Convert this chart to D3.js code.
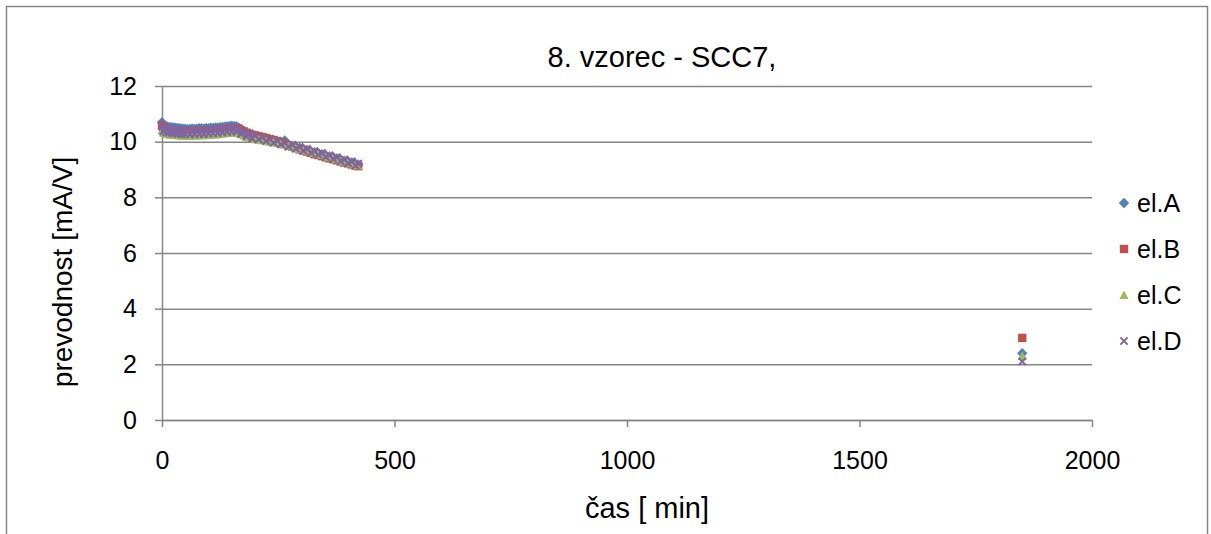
<!DOCTYPE html>
<html>
<head>
<meta charset="utf-8">
<script src="https://cdn.jsdelivr.net/npm/d3@7"></script>
<style>
  html, body { margin: 0; padding: 0; background: #fff; }
  svg { display: block; font-family: "Liberation Sans", Arial, sans-serif; }
</style>
</head>
<body>
<svg id="chart" width="1211" height="534"></svg>
<script>
// Measurement times [min]; the last sample was taken the next day
const times = [0,3,6,9,12,15,18,21,24,27,30,34,38,42,46,50,55,60,65,70,75,80,85,90,95,100,
  105,110,115,120,125,130,135,140,145,150,155,160,165,170,176,182,188,194,200,208,216,224,
  232,240,248,256,264,272,280,288,296,304,312,320,328,336,344,352,360,368,376,384,392,400,
  408,416,422,1850];

// Conductance [mA/V] of each electrode
const elA = [10.70,10.62,10.58,10.55,10.54,10.52,10.51,10.52,10.50,10.50,10.49,10.48,10.48,10.47,
  10.46,10.47,10.45,10.46,10.47,10.46,10.47,10.48,10.48,10.47,10.49,10.48,10.50,10.49,10.51,10.50,
  10.52,10.53,10.54,10.55,10.56,10.57,10.56,10.55,10.50,10.44,10.38,10.33,10.28,10.24,10.21,10.17,
  10.13,10.10,10.06,10.03,10.00,9.97,10.04,9.89,9.85,9.81,9.78,9.74,9.70,9.66,9.62,9.59,9.55,9.51,
  9.47,9.44,9.40,9.36,9.32,9.29,9.25,9.21,9.18,2.40];
const elB = [10.58,10.50,10.47,10.45,10.44,10.43,10.42,10.42,10.41,10.41,10.40,10.39,10.39,10.38,
  10.38,10.38,10.37,10.37,10.38,10.38,10.38,10.39,10.39,10.39,10.40,10.40,10.41,10.41,10.42,10.42,
  10.43,10.44,10.45,10.46,10.47,10.48,10.49,10.48,10.46,10.41,10.36,10.32,10.28,10.24,10.22,10.19,
  10.16,10.13,10.09,10.06,10.02,9.98,9.92,9.86,9.82,9.77,9.72,9.68,9.64,9.60,9.55,9.52,9.48,9.44,
  9.40,9.37,9.33,9.29,9.25,9.22,9.18,9.14,9.12,2.95];
const elC = [10.40,10.33,10.31,10.29,10.28,10.27,10.26,10.26,10.25,10.25,10.24,10.23,10.23,10.22,
  10.22,10.22,10.21,10.21,10.22,10.22,10.22,10.23,10.23,10.23,10.24,10.24,10.25,10.26,10.27,10.27,
  10.28,10.29,10.30,10.31,10.32,10.33,10.34,10.33,10.31,10.27,10.22,10.18,10.14,10.11,10.09,10.07,
  10.05,10.03,10.00,9.98,9.95,9.92,9.89,9.85,9.82,9.78,9.74,9.71,9.67,9.63,9.59,9.56,9.52,9.48,
  9.44,9.41,9.37,9.33,9.29,9.26,9.22,9.18,9.15,2.30];
const elD = [10.55,10.38,10.50,10.34,10.47,10.32,10.45,10.31,10.44,10.30,10.43,10.28,10.42,10.27,
  10.41,10.27,10.40,10.26,10.41,10.27,10.41,10.28,10.42,10.28,10.43,10.29,10.44,10.30,10.45,10.31,
  10.46,10.33,10.48,10.35,10.50,10.37,10.51,10.36,10.47,10.28,10.37,10.19,10.29,10.11,10.23,10.08,
  10.15,10.02,10.09,9.96,10.03,9.90,9.96,9.82,9.89,9.75,9.81,9.68,9.74,9.60,9.66,9.53,9.59,9.45,
  9.51,9.38,9.44,9.30,9.36,9.23,9.29,9.15,9.21,2.10];

const seriesNames = ["el.A", "el.B", "el.C", "el.D"];
const xTicks = [0, 500, 1000, 1500, 2000];
const yTicks = [0, 2, 4, 6, 8, 10, 12];

const colors = { "el.A": "#4F81BD", "el.B": "#C0504D", "el.C": "#9BBB59", "el.D": "#8064A2" };
const shapes = { "el.A": "diamond", "el.B": "square", "el.C": "triangle", "el.D": "cross" };
const seriesValues = { "el.A": elA, "el.B": elB, "el.C": elC, "el.D": elD };

const svg = d3.select("#chart");
const grey = "#868686";
const fontFamily = "'Liberation Sans', Arial, sans-serif";

// chart area frame
svg.append("rect")
  .attr("x", 6.5).attr("y", 6.5).attr("width", 1201).attr("height", 540)
  .attr("fill", "#fff").attr("stroke", grey).attr("stroke-width", 1.5);

const plot = { left: 162, right: 1092, top: 86, bottom: 420 };
const x = d3.scaleLinear().domain([0, 2000]).range([plot.left, plot.right]);
const y = d3.scaleLinear().domain([0, 12]).range([plot.bottom, plot.top]);

// horizontal gridlines
svg.append("g")
  .attr("transform", `translate(${plot.left},0)`)
  .call(d3.axisLeft(y).tickValues(yTicks).tickSize(-(plot.right - plot.left)).tickFormat(""))
  .call(g => g.select(".domain").remove())
  .call(g => g.selectAll("line").attr("stroke", grey).attr("stroke-width", 1.5));

// y axis
svg.append("g")
  .attr("transform", `translate(${plot.left},0)`)
  .call(d3.axisLeft(y).tickValues(yTicks).tickFormat(d3.format("d"))
    .tickSizeInner(7).tickSizeOuter(0).tickPadding(18))
  .call(g => g.select(".domain").attr("stroke", grey).attr("stroke-width", 1.5))
  .call(g => g.selectAll("line").attr("stroke", grey).attr("stroke-width", 1.5))
  .call(g => g.selectAll("text").attr("fill", "#000").style("font-size", "25px")
    .style("font-family", fontFamily));

// x axis
svg.append("g")
  .attr("transform", `translate(0,${plot.bottom})`)
  .call(d3.axisBottom(x).tickValues(xTicks).tickFormat(d3.format("d"))
    .tickSizeInner(7).tickSizeOuter(0).tickPadding(24))
  .call(g => g.select(".domain").attr("stroke", grey).attr("stroke-width", 1.5))
  .call(g => g.selectAll("line").attr("stroke", grey).attr("stroke-width", 1.5))
  .call(g => g.selectAll("text").attr("fill", "#000").style("font-size", "25px")
    .style("font-family", fontFamily));

// marker drawing
function drawMarker(sel, shape, color) {
  if (shape === "diamond") {
    sel.append("path").attr("d", "M0,-5.2L5.2,0L0,5.2L-5.2,0Z").attr("fill", color);
  } else if (shape === "square") {
    sel.append("rect").attr("x", -4.2).attr("y", -4.2).attr("width", 8.4).attr("height", 8.4).attr("fill", color);
  } else if (shape === "triangle") {
    sel.append("path").attr("d", "M0,-4.6L4.6,4L-4.6,4Z").attr("fill", color);
  } else {
    sel.append("path").attr("d", "M-3.6,-3.6L3.6,3.6M-3.6,3.6L3.6,-3.6")
      .attr("stroke", color).attr("stroke-width", 2).attr("fill", "none");
  }
}

// data points, series drawn in order so el.D lies on top
seriesNames.forEach(name => {
  const vals = seriesValues[name];
  const g = svg.append("g").attr("class", "series");
  times.forEach((t, i) => {
    const m = g.append("g").attr("transform", `translate(${x(t)},${y(vals[i])})`);
    drawMarker(m, shapes[name], colors[name]);
  });
});

// legend
const legend = svg.append("g").attr("transform", "translate(1124,203)");
seriesNames.forEach((name, i) => {
  const row = legend.append("g").attr("transform", `translate(0,${i * 46})`);
  drawMarker(row, shapes[name], colors[name]);
  row.append("text").attr("x", 13).attr("y", 0).attr("dy", "0.35em")
    .style("font-size", "25px").attr("fill", "#000").text(name);
});

// titles
svg.append("text").attr("x", 662).attr("y", 67).attr("text-anchor", "middle")
  .style("font-size", "29px").attr("fill", "#000").text("8. vzorec - SCC7,");

svg.append("text").attr("x", 647).attr("y", 518).attr("text-anchor", "middle")
  .style("font-size", "29px").attr("fill", "#000").text("čas [ min]");

svg.append("text").attr("transform", "translate(72,272) rotate(-90)").attr("text-anchor", "middle")
  .style("font-size", "28px").attr("fill", "#000").text("prevodnost [mA/V]");
</script>
</body>
</html>
